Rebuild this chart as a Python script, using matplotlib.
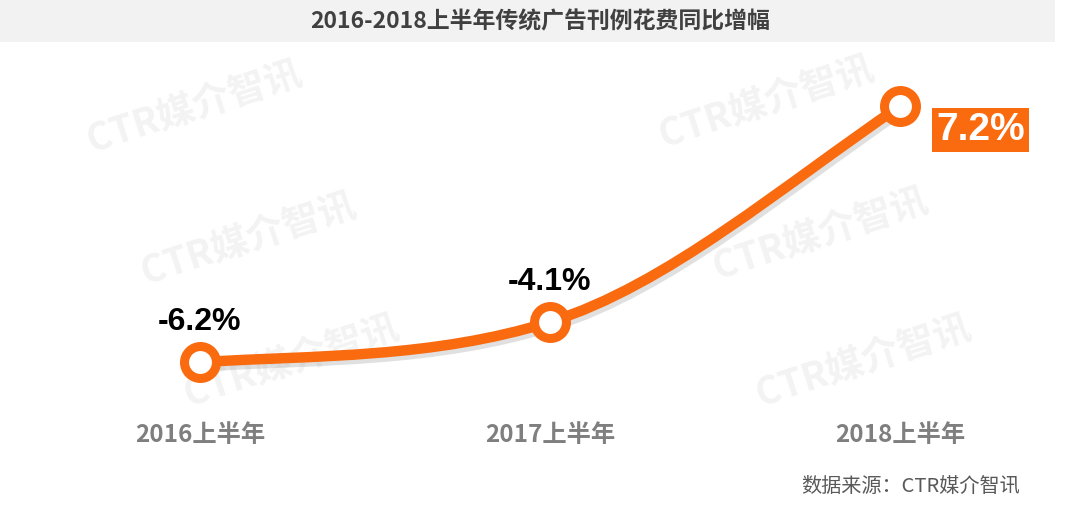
import numpy as np
import matplotlib.pyplot as plt
from matplotlib.path import Path
from matplotlib.patches import PathPatch, Rectangle
import matplotlib.patheffects as pe

plt.rcParams['font.family'] = ['Noto Sans CJK SC', 'DejaVu Sans']

# data
periods = ["2016上半年", "2017上半年", "2018上半年"]
growth = [-6.2, -4.1, 7.2]
labels = ["-6.2%", "-4.1%", "7.2%"]
title = "2016-2018上半年传统广告刊例花费同比增幅"
source = "数据来源：CTR媒介智讯"
watermark = "CTR媒介智讯"

orange = "#FA6A0F"

fig = plt.figure(figsize=(10.8, 5.09), dpi=100)
ax = fig.add_axes([0, 0, 1, 1])
ax.set_xlim(-0.571, 2.514)
ax.set_ylim(-13.89, 12.75)
ax.axis("off")

# faint watermarks (axes fraction)
for wx, wy in [(0.18, 0.79), (0.23, 0.53), (0.27, 0.29),
               (0.71, 0.80), (0.76, 0.54), (0.80, 0.29)]:
    ax.text(wx, wy, watermark, transform=ax.transAxes, rotation=18,
            fontsize=27, fontweight="bold", color="#F3F3F3",
            ha="center", va="center", zorder=0)

# title bar
fig.patches.append(Rectangle((0, 1 - 42 / 509), 1055 / 1080, 42 / 509,
                             transform=fig.transFigure, facecolor="#F2F2F2",
                             edgecolor="none", zorder=0))
fig.text(0.5, 1 - 22 / 509, title, ha="center", va="center", fontsize=16.5,
         fontweight="bold", color="#404040")

# smooth curve through the points (cubic Bezier with cardinal-style tangents)
x = np.arange(len(growth), dtype=float)
y = np.array(growth)
sec = np.diff(y) / np.diff(x)
slope = np.zeros_like(y)
slope[1:-1] = 0.85 * (sec[:-1] + sec[1:]) / 2
slope[0] = sec[0] * 0.5
slope[-1] = sec[-1] * 1.1
verts = [(x[0], y[0])]
codes = [Path.MOVETO]
for i in range(len(x) - 1):
    h = (x[i + 1] - x[i]) / 3
    verts += [(x[i] + h, y[i] + slope[i] * h),
              (x[i + 1] - h, y[i + 1] - slope[i + 1] * h),
              (x[i + 1], y[i + 1])]
    codes += [Path.CURVE4] * 3
curve = Path(verts, codes)
ax.add_patch(PathPatch(curve, facecolor="none", edgecolor=orange, lw=7.5,
                       capstyle="round", zorder=2,
                       path_effects=[pe.SimpleLineShadow(offset=(2, -3), shadow_color="#999999", alpha=0.3),
                                     pe.Normal()]))

ax.plot(x, y, "o", ms=23, mfc="white", mec=orange, mew=6.5, zorder=3)

# value labels
num_font = ["Liberation Sans", "DejaVu Sans"]
for i in range(2):
    ax.text(x[i], y[i] + 2.1, labels[i], ha="center", va="center",
            fontsize=23, fontweight="bold", color="black", family=num_font)
ax.text(x[2] + 0.23, y[2] - 1.25, labels[2], ha="center", va="center",
        fontsize=28, fontweight="bold", color="white", family=num_font,
        bbox=dict(boxstyle="square,pad=0.1", facecolor=orange, edgecolor="none"))

# category labels
for i, p in enumerate(periods):
    ax.text(x[i], -10.0, p, ha="center", va="center", fontsize=17.5,
            fontweight="bold", color="#7F7F7F")

fig.text(1020 / 1080, 1 - 487 / 509, source, ha="right", va="center",
         fontsize=14.5, color="#595959")

fig.savefig("out.png", dpi=100)
